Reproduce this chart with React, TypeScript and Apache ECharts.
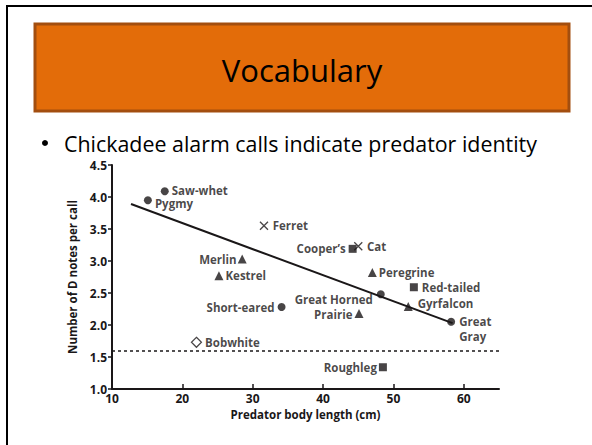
import React, { useEffect, useRef } from 'react';
import * as echarts from 'echarts';

// ---- Data ----
const birdNames = ['Saw-whet', 'Pygmy', 'Ferret', 'Merlin', 'Kestrel', 'Cooper\u2019s', 'Cat', 'Peregrine', 'Red-tailed', 'Great Horned', 'Gyrfalcon', 'Prairie', 'Great\nGray', 'Short-eared', 'Bobwhite', 'Roughleg'];
const bodyLengthCm = [17.5, 15.1, 31.6, 28.5, 25.2, 44.2, 45.0, 47.0, 52.9, 48.2, 52.1, 45.1, 58.2, 34.1, 22.0, 48.5];
const dNotesPerCall = [4.09, 3.95, 3.55, 3.03, 2.77, 3.19, 3.23, 2.82, 2.59, 2.48, 2.29, 2.18, 2.05, 2.28, 1.73, 1.34];
const markerKind = ['circle', 'circle', 'cross', 'triangle', 'triangle', 'square', 'cross', 'triangle', 'square', 'circle', 'triangle', 'triangle', 'circle', 'circle', 'diamond', 'square'];
const fitLineX = [12.7, 58.4];
const fitLineY = [3.89, 2.03];
const baselineNotes = 1.6;
const xTickValues = [10, 20, 30, 40, 50, 60];
const yTickValues = [1.0, 1.5, 2.0, 2.5, 3.0, 3.5, 4.0, 4.5];

// ---- Label placement (layout, not data) ----
const labelPlacement: Record<string, { pos: string; dy?: number; dist?: number }> = {
  'Saw-whet': { pos: 'right', dy: -1, dist: 3 },
  'Pygmy': { pos: 'right', dy: 3, dist: 3 },
  'Ferret': { pos: 'right', dist: 4 },
  'Merlin': { pos: 'left', dist: 1 },
  'Kestrel': { pos: 'right', dist: 2 },
  'Cooper\u2019s': { pos: 'left', dist: 3 },
  'Cat': { pos: 'right', dist: 4 },
  'Peregrine': { pos: 'right', dist: 2 },
  'Red-tailed': { pos: 'right', dist: 4 },
  'Great Horned': { pos: 'left', dy: 5, dist: 4 },
  'Gyrfalcon': { pos: 'right', dy: -3, dist: 5 },
  'Prairie': { pos: 'left', dy: 1, dist: 2 },
  'Great\nGray': { pos: 'right', dy: 7.5, dist: 4 },
  'Short-eared': { pos: 'left', dist: 3 },
  'Bobwhite': { pos: 'right', dist: 3 },
  'Roughleg': { pos: 'left', dist: 2 },
};

const INK = '#1a1718';
const FONT = '"Open Sans", "Noto Sans", sans-serif';

function symbolFor(kind: string) {
  switch (kind) {
    case 'circle':
      return { symbol: 'circle', symbolSize: 8, itemStyle: { color: INK } };
    case 'triangle':
      return { symbol: 'triangle', symbolSize: 9, itemStyle: { color: INK } };
    case 'square':
      return { symbol: 'rect', symbolSize: 8, itemStyle: { color: INK } };
    case 'cross':
      return {
        symbol: 'path://M0,0L10,10M10,0L0,10',
        symbolSize: 8,
        itemStyle: { color: 'transparent', borderColor: INK, borderWidth: 1.3 },
      };
    default:
      return {
        symbol: 'diamond',
        symbolSize: 10,
        itemStyle: { color: '#fff', borderColor: INK, borderWidth: 1.2 },
      };
  }
}

export default function App() {
  const ref = useRef<HTMLDivElement>(null);

  useEffect(() => {
    if (!ref.current) return;
    const chart = echarts.init(ref.current, undefined, { renderer: 'svg' });

    const points = birdNames.map((name, i) => {
      const pl = labelPlacement[name] || { pos: 'right' };
      const multi = name.indexOf('\n') >= 0;
      return {
        name,
        value: [bodyLengthCm[i], dNotesPerCall[i]],
        ...symbolFor(markerKind[i]),
        label: {
          show: true,
          position: pl.pos,
          distance: pl.dist ?? 3,
          offset: [0, pl.dy ?? 0],
          formatter: name,
          align: pl.pos === 'left' ? 'right' : 'left',
          lineHeight: multi ? 15 : 11,
        },
      };
    });

    chart.setOption({
      animation: false,
      backgroundColor: '#fff',
      textStyle: { fontFamily: FONT },
      graphic: [
        { type: 'rect', shape: { x: 6, y: 5, width: 2, height: 440 }, style: { fill: '#000' } },
        { type: 'rect', shape: { x: 6, y: 5, width: 586, height: 2 }, style: { fill: '#000' } },
        {
          type: 'rect',
          shape: { x: 35, y: 24, width: 534, height: 87 },
          style: { fill: '#E36C09', stroke: '#A34E0F', lineWidth: 3 },
        },
        {
          type: 'text',
          x: 302,
          y: 70,
          style: {
            text: 'Vocabulary',
            fill: '#000',
            font: `31px ${FONT}`,
            align: 'center',
            verticalAlign: 'middle',
          },
        },
        { type: 'circle', shape: { cx: 45, cy: 143, r: 3 }, style: { fill: '#000' } },
        {
          type: 'text',
          x: 64,
          y: 143,
          style: {
            text: 'Chickadee alarm calls indicate predator identity',
            fill: '#000',
            font: `21.4px ${FONT}`,
            lineHeight: 22,
            align: 'left',
            verticalAlign: 'middle',
          },
        },
      ],
      grid: { left: 112, top: 165, right: 93, bottom: 56, outerBoundsMode: 'none', containLabel: false },
      xAxis: {
        type: 'value',
        min: 10,
        max: 65,
        interval: 10,
        name: 'Predator body length (cm)',
        nameLocation: 'middle',
        nameGap: 14,
        nameTextStyle: { fontWeight: 'bold', fontSize: 11.5, color: INK, fontFamily: FONT },
        axisLine: { lineStyle: { color: INK, width: 2 } },
        axisTick: { inside: true, length: 5, customValues: xTickValues.slice(1), lineStyle: { color: INK, width: 1.5 } },
        axisLabel: {
          customValues: xTickValues,
          fontWeight: 'bold',
          fontSize: 12,
          color: INK,
          margin: 3,
          fontFamily: FONT,
        },
        splitLine: { show: false },
      },
      yAxis: {
        type: 'value',
        min: 1,
        max: 4.5,
        interval: 0.5,
        name: 'Number of D notes per call',
        nameLocation: 'middle',
        nameGap: 28,
        nameRotate: 90,
        nameTextStyle: { fontWeight: 'bold', fontSize: 11.5, color: INK, fontFamily: FONT },
        axisLine: { show: true, lineStyle: { color: INK, width: 2 } },
        axisTick: { show: true, inside: false, length: 4, customValues: yTickValues, lineStyle: { color: INK, width: 1.5 } },
        axisLabel: {
          customValues: yTickValues,
          formatter: (v: number) => v.toFixed(1),
          fontWeight: 'bold',
          fontSize: 12,
          color: INK,
          margin: 5,
          fontFamily: FONT,
        },
        splitLine: { show: false },
      },
      series: [
        {
          type: 'line',
          data: fitLineX.map((x, i) => [x, fitLineY[i]]),
          showSymbol: false,
          symbol: 'none',
          lineStyle: { color: INK, width: 2 },
          silent: true,
          z: 2,
        },
        {
          type: 'scatter',
          data: points,
          z: 3,
          label: {
            color: INK,
            fontWeight: 'bold',
            fontSize: 11.5,
            fontFamily: FONT,
          },
          markLine: {
            silent: true,
            symbol: 'none',
            label: { show: false },
            lineStyle: { color: INK, width: 1.5, type: [3, 3] },
            data: [{ yAxis: baselineNotes }],
          },
        },
      ],
    });

    return () => chart.dispose();
  }, []);

  return (
    <div
      ref={ref}
      style={{ position: 'absolute', left: 0, top: 0, width: 592, height: 445 }}
    />
  );
}
